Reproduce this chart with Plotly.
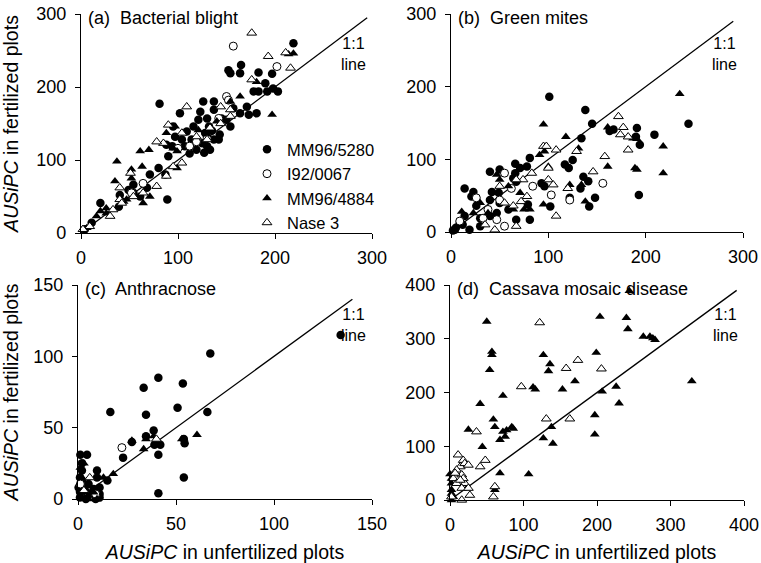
import plotly.graph_objects as go

W, H = 761, 563
FONT = "Liberation Sans, Arial, sans-serif"

series_names = ["MM96/5280", "I92/0067", "MM96/4884", "Nase 3"]
panel_titles = ["(a)\u00a0 Bacterial blight", "(b)\u00a0 Green mites",
                "(c)\u00a0 Anthracnose", "(d)\u00a0 Cassava mosaic disease"]
axis_max = [300, 300, 150, 400]
axis_dtick = [100, 100, 50, 100]
line_end = [295, 290, 140, 390]   # extent of the 1:1 line in each panel

# ---- (a) Bacterial blight: (unfertilized, fertilized)
a_5280 = [(219,260),(165,230),(164,219),(152,223),(154,219),(183,220),(197,218),(190,205),
          (192,194),(183,194),(178,194),(198,198),(203,194),(173,162),(181,164),(171,173),
          (164,164),(157,171),(154,146),(150,155),(145,157),(143,135),(137,169),(130,157),
          (123,166),(126,180),(137,180),(121,155),(116,146),(114,128),(109,139),(107,119),
          (112,109),(119,114),(125,123),(130,119),(133,114),(137,128),(142,128),(128,137),
          (132,146),(104,128),(102,164),(95,146),(97,132),(94,119),(90,105),(88,121),
          (81,177),(80,89),(87,80),(89,46),(71,80),(68,62),(61,50),(54,66),(49,59),(54,55),
          (40,52),(39,36),(20,41),(11,14),(4,5),(127,110),(135,140),(118,126)]
a_0067 = [(157,256),(202,228),(150,187),(142,157),(130,130),(112,119),(100,116),(64,68),
          (52,55),(119,125),(152,182)]
a_4884 = [(219,246),(214,245),(181,207),(164,187),(154,180),(197,162),(88,137),(97,146),
          (99,112),(99,89),(61,112),(63,91),(70,114),(37,98),(35,71),(52,87),(52,75),(64,41),
          (44,43),(26,27),(20,30),(26,34),(130,135),(121,141),(95,116),(140,153),(71,50),
          (47,46),(16,23),(6,7)]
a_nase3 = [(176,274),(193,242),(211,247),(216,226),(176,210),(154,169),(144,173),(109,173),
           (90,148),(85,123),(78,64),(88,78),(104,96),(133,144),(144,150),(130,128),(119,132),
           (51,82),(40,62),(40,46),(30,23),(9,9),(2,5),(54,50),(64,55),(42,41),(33,32),
           (104,137),(78,125),(95,91),(154,160)]

# ---- (b) Green mites
b_5280 = [(101,186),(138,168),(145,149),(134,129),(167,141),(163,139),(191,143),(209,134),
          (244,149),(193,51),(190,131),(194,120),(117,93),(121,88),(125,99),(136,76),(133,60),
          (141,70),(122,47),(142,35),(148,47),(102,35),(93,67),(96,63),(81,102),(78,90),
          (71,88),(66,81),(64,74),(67,69),(66,94),(50,86),(40,83),(42,55),(49,54),(50,40),
          (59,31),(67,17),(81,17),(79,38),(21,49),(14,60),(23,55),(26,36),(14,22),(9,12),
          (4,3),(19,3),(30,8),(40,22),(47,26),(40,44),(30,19),(5,6),(12,10),(2,2)]
b_0067 = [(55,81),(26,47),(38,31),(50,44),(55,8),(47,17),(84,63),(103,51),(122,44),(156,67),
          (9,15),(62,60),(33,19)]
b_4884 = [(235,190),(95,148),(118,131),(131,115),(218,118),(191,128),(161,144),(187,129),
          (189,88),(191,86),(218,81),(161,90),(134,65),(122,65),(138,42),(95,38),(100,90),
          (96,111),(91,106),(47,79),(59,63),(71,54),(75,31),(81,31),(30,40),(11,28),(23,26),
          (38,26),(64,31),(50,72)]
b_nase3 = [(172,159),(177,144),(174,134),(182,131),(182,113),(146,83),(158,104),(129,111),
           (95,118),(98,118),(108,113),(100,88),(100,72),(83,81),(105,65),(120,60),(108,22),
           (67,8),(45,3),(64,36),(78,49),(72,42),(50,63),(74,72),(67,72),(35,10),(55,40)]

# ---- (c) Anthracnose
c_5280 = [(134,115),(67.5,102),(66,61),(41,85),(33.5,78),(53.5,81),(50.8,64),(34.7,59),
          (16.5,61),(38.6,48),(34.7,44),(54,42),(54.4,39),(39,38),(42,38),(41,31),(23,29),
          (54,15),(41,4),(27.5,40),(15,13),(9.7,20),(9.7,15),(4.6,31),(1.2,31),(5.4,10.5),
          (1,15),(3,6),(1,1),(11,1),(6,3.5),(2,20),(2,25),(4,0),(8,7),(11,8),(0.3,8),(3,10.5),
          (2,13),(1,5),(9,0),(11,3.5)]
c_0067 = [(22.4,36),(1.2,10.5),(9,3.5)]
c_4884 = [(60.7,45),(53,42),(34.7,42),(38.6,44),(27.5,41),(33.5,35),(18,17.6),(13,15),(3,25),
          (1.2,22),(2,15),(4.6,6),(8,4.7),(9.7,0),(5.4,0),(1.2,1)]
c_nase3 = [(40,42),(3,6),(6,15)]

# ---- (d) Cassava mosaic disease
d_5280 = []
d_0067 = []
d_4884 = [(244,389),(50,332),(204,341),(240,339),(242,318),(263,304),(272,304),(276,301),
          (279,298),(329,221),(136,253),(127,270),(134,240),(199,274),(170,221),(153,206),
          (113,210),(116,206),(207,202),(226,211),(230,180),(197,158),(197,122),(127,115),
          (138,136),(140,105),(57,276),(57,270),(54,242),(41,179),(72,194),(59,150),(61,136),
          (72,127),(68,112),(75,118),(77,130),(84,136),(86,133),(44,99),(25,131),(68,50),
          (107,48),(2,31),(2,19),(2,0),(4.5,6),(2,12),(0,48),(2,40),(23,22),(61,19)]
d_nase3 = [(122,330),(174,260),(158,245),(97,211),(206,244),(131,151),(163,151),(36,127),
           (41,62),(48,74),(61,25),(59,6),(11,84),(14,62),(18,74),(20,68),(25,65),(9,56),
           (16,47),(4.5,40),(9,31),(20,31),(16,22),(25,22),(27,9),(16,0),(7,50),(2,6),(18,40),
           (14,37)]

panels = [
    [a_5280, a_0067, a_4884, a_nase3],
    [b_5280, b_0067, b_4884, b_nase3],
    [c_5280, c_0067, c_4884, c_nase3],
    [d_5280, d_0067, d_4884, d_nase3],
]

styles = [
    dict(symbol="circle", size=8.5, color="black", line=dict(color="black", width=0)),
    dict(symbol="circle", size=8, color="white", line=dict(color="black", width=1)),
    dict(symbol="triangle-up", size=8.5, color="black", line=dict(color="black", width=0)),
    dict(symbol="triangle-up", size=8.5, color="white", line=dict(color="black", width=1)),
]

# plot-area pixel boxes (left, right, top, bottom) for the 4 panels
boxes = [(81, 372, 14, 233), (451, 743, 14, 232), (78, 372, 285, 499), (450, 744, 285, 500)]

fig = go.Figure()
for p, series in enumerate(panels):
    ax = "" if p == 0 else str(p + 1)
    L = line_end[p]
    fig.add_trace(go.Scatter(x=[0, L], y=[0, L], mode="lines", showlegend=False,
                             line=dict(color="black", width=1.3), hoverinfo="skip",
                             xaxis="x" + ax, yaxis="y" + ax))
    for s, pts in enumerate(series):
        if not pts:
            continue
        xs = [q[0] for q in pts]
        ys = [q[1] for q in pts]
        fig.add_trace(go.Scatter(x=xs, y=ys, mode="markers", name=series_names[s],
                                 marker=styles[s], showlegend=(p == 0), cliponaxis=False,
                                 legendgroup=series_names[s],
                                 xaxis="x" + ax, yaxis="y" + ax))

tickfont = dict(family=FONT, size=18, color="black")
titlefont = dict(family=FONT, size=19.5, color="black")
for p in range(4):
    l, r, t, b = boxes[p]
    ax = "" if p == 0 else str(p + 1)
    common = dict(range=[0, axis_max[p]], dtick=axis_dtick[p], tick0=0, showgrid=False,
                  zeroline=False, showline=True, linecolor="black", linewidth=1.3,
                  ticks="outside", ticklen=5, tickwidth=1.3, tickcolor="black",
                  tickfont=tickfont, automargin=False, fixedrange=True)
    xa = dict(common, domain=[l / W, r / W], anchor="y" + ax, ticklabelstandoff=3)
    ya = dict(common, domain=[1 - b / H, 1 - t / H], anchor="x" + ax, ticklabelstandoff=5)
    if p in (0, 2):
        ya["title"] = dict(text="<i>AUSiPC</i> in fertilized plots", font=titlefont)
    if p in (2, 3):
        xa["title"] = dict(text="<i>AUSiPC</i> in unfertilized plots", font=titlefont)
    fig.layout["xaxis" + ax] = xa
    fig.layout["yaxis" + ax] = ya

annotations = []
for p in range(4):
    l, r, t, b = boxes[p]
    annotations.append(dict(text=panel_titles[p], xref="paper", yref="paper",
                            x=(l + 5) / W, y=1 - (t + 4) / H, xanchor="left", yanchor="middle",
                            showarrow=False, font=dict(family=FONT, size=18, color="black")))
    annotations.append(dict(text="1:1<br>line", xref="paper", yref="paper",
                            x=(r - 19) / W, y=1 - (t + 40) / H, xanchor="center", yanchor="middle",
                            showarrow=False, align="center",
                            font=dict(family=FONT, size=16, color="black")))

fig.update_layout(
    width=W, height=H, margin=dict(l=0, r=0, t=0, b=0),
    paper_bgcolor="white", plot_bgcolor="white",
    font=dict(family=FONT, color="black"),
    annotations=annotations,
    legend=dict(x=247 / W, y=1 - 132 / H, xanchor="left", yanchor="top",
                bgcolor="rgba(0,0,0,0)", font=dict(family=FONT, size=16.5, color="black"),
                tracegroupgap=0, itemwidth=30),
)

fig.write_html("out.html")
